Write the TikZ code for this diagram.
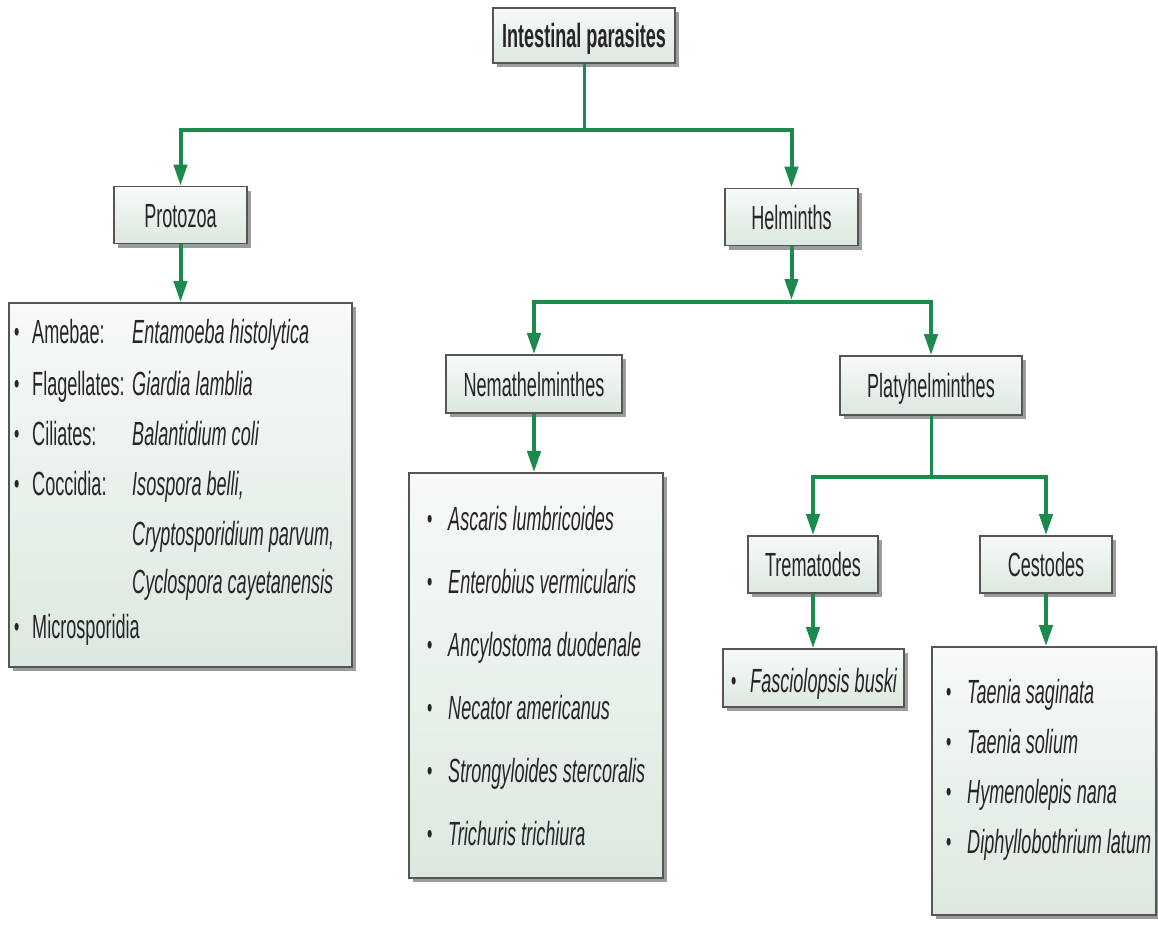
\documentclass[tikz,border=0pt]{standalone}
\usepackage{fontspec}
\newfontfamily\nf{Liberation Sans}[FakeStretch=0.54]
\usetikzlibrary{arrows.meta,shadows}
\definecolor{grn}{HTML}{1B8A4C}
\definecolor{bordc}{HTML}{555555}
\definecolor{boxtop}{HTML}{F7FAF8}
\definecolor{boxbot}{HTML}{DCE8DF}
\definecolor{shadc}{HTML}{9C9C9C}
\definecolor{txtc}{HTML}{262626}
\tikzset{
  box/.style={draw=bordc, line width=1.6pt, top color=boxtop, bottom color=boxbot,
    inner sep=0pt, text height=24pt, text depth=0pt,
    drop shadow={shadow xshift=4pt, shadow yshift=-4pt, fill=shadc, opacity=1}},
  lbl/.style={font=\nf\fontsize{33.5}{38}\selectfont, text=txtc, inner sep=0pt},
  itl/.style={lbl, font=\nf\itshape\fontsize{33.5}{38}\selectfont},
  bul/.style={font=\nf\fontsize{28}{30}\selectfont, text=txtc, inner sep=0pt},
  link/.style={draw=grn, line width=4pt},
  arr/.style={link, -{Triangle[length=21pt,width=13pt]}},
}
\begin{document}
\begin{tikzpicture}[x=1pt,y=-1pt]
\useasboundingbox[fill=white] (0,0) rectangle (1158,926);

% boxes
\node[box, lbl, minimum width=182pt, minimum height=55pt] (title) at (584,35.5) {\bfseries Intestinal parasites};
\node[box, lbl, minimum width=133pt, minimum height=57pt] (proto) at (180.5,215) {Protozoa};
\node[box, lbl, minimum width=133pt, minimum height=57pt] (helm) at (791.5,217) {Helminths};
\node[box, lbl, minimum width=176pt, minimum height=58pt] (nema) at (534,384) {Nemathelminthes};
\node[box, lbl, minimum width=182pt, minimum height=59pt] (platy) at (931,385.5) {Platyhelminthes};
\node[box, lbl, minimum width=130pt, minimum height=57pt] (trem) at (813,564.5) {Trematodes};
\node[box, lbl, minimum width=132pt, minimum height=57pt] (cest) at (1046,564.5) {Cestodes};

\node[box, minimum width=343pt, minimum height=364pt] (plist) at (180.5,485) {};
\node[box, minimum width=254pt, minimum height=405pt] (nlist) at (536,675.5) {};
\node[box, minimum width=181pt, minimum height=58pt] (flist) at (813.5,678) {};
\node[box, minimum width=224pt, minimum height=268pt] (clist) at (1044,781) {};

% protozoa list
\node[bul, anchor=base west] (pb1) at (14,341) {•};
\node[bul, anchor=base west] (pb2) at (14,393) {•};
\node[bul, anchor=base west] (pb3) at (14,443) {•};
\node[bul, anchor=base west] (pb4) at (14,493) {•};
\node[bul, anchor=base west] (pb5) at (14,636) {•};
\node[lbl, anchor=base west] (pl1) at (32,343) {Amebae:};
\node[lbl, anchor=base west] (pl2) at (32,395) {Flagellates:};
\node[lbl, anchor=base west] (pl3) at (32,445) {Ciliates:};
\node[lbl, anchor=base west] (pl4) at (32,495) {Coccidia:};
\node[lbl, anchor=base west] (pl5) at (32,638) {Microsporidia};
\node[itl, anchor=base west] (pi1) at (132,343) {Entamoeba histolytica};
\node[itl, anchor=base west] (pi2) at (132,395) {Giardia lamblia};
\node[itl, anchor=base west] (pi3) at (132,445) {Balantidium coli};
\node[itl, anchor=base west] (pi4) at (132,495) {Isospora belli,};
\node[itl, anchor=base west] (pi5) at (132,545) {Cryptosporidium parvum,};
\node[itl, anchor=base west] (pi6) at (132,593) {Cyclospora cayetanensis};

% nemathelminthes list
\foreach \t [count=\i] in {Ascaris lumbricoides, Enterobius vermicularis, Ancylostoma duodenale, Necator americanus, Strongyloides stercoralis, Trichuris trichiura}{
  \node[bul, anchor=base west] (nb\i) at (427,{528+63*(\i-1)}) {•};
  \node[itl, anchor=base west] (nt\i) at (448,{530+63*(\i-1)}) {\t};
}

% trematodes list
\node[bul, anchor=base west] (fb1) at (731,690) {•};
\node[itl, anchor=base west] (ft1) at (750,692) {Fasciolopsis buski};

% cestodes list
\foreach \t [count=\i] in {Taenia saginata, Taenia solium, Hymenolepis nana, Diphyllobothrium latum}{
  \node[bul, anchor=base west] (cb\i) at (946,{701+50*(\i-1)}) {•};
  \node[itl, anchor=base west] (ct\i) at (967,{703+50*(\i-1)}) {\t};
}

% connectors
\coordinate (b1) at (584,130);
\coordinate (b2) at (791.5,302);
\coordinate (b3) at (931,477);
\draw[link, line width=3pt] (title.south) -- (b1);
\draw[arr] (b1) -| (proto.north);
\draw[arr] (b1) -| (helm.north);
\draw[arr] (proto.south) -- (proto.south |- plist.north);

\draw[arr, shorten >=2pt] (helm.south) -- (b2);
\draw[arr] (b2) -| (nema.north);
\draw[arr] (b2) -| (platy.north);
\draw[arr] (nema.south) -- (nema.south |- nlist.north);

\draw[link, line width=3pt] (platy.south) -- (b3);
\draw[arr] (b3) -| (trem.north);
\draw[arr] (b3) -| (cest.north);
\draw[arr] (trem.south) -- (trem.south |- flist.north);
\draw[arr] (cest.south) -- (cest.south |- clist.north);
\end{tikzpicture}
\end{document}
